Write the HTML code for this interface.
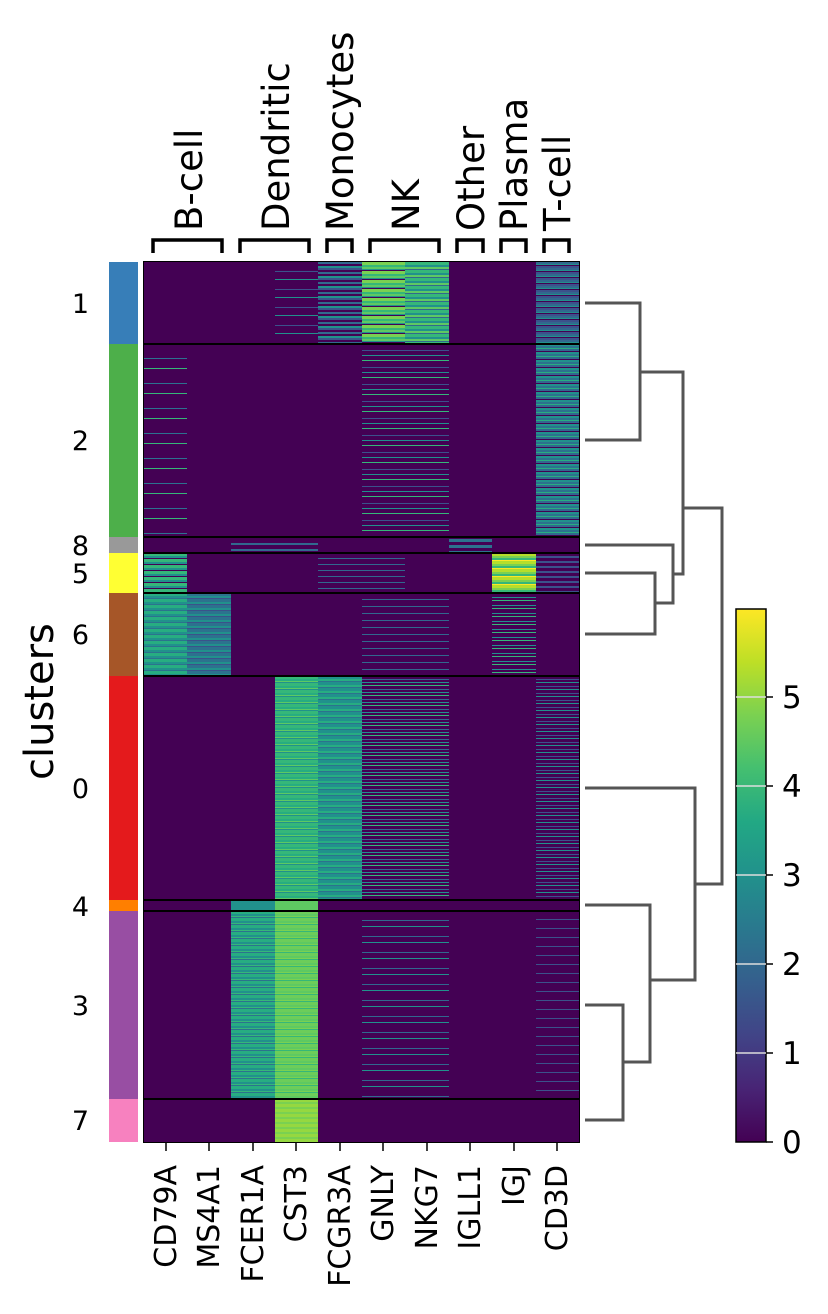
<!DOCTYPE html>
<html><head><meta charset="utf-8"><style>
body{margin:0;background:#fff;width:828px;height:1314px;position:relative;overflow:hidden;font-family:"DejaVu Sans",sans-serif;}
.a{position:absolute}
.c{position:absolute}
</style></head><body>
<div class="a" style="left:109px;top:262px;width:29px;height:82px;background:#377eb8"></div>
<div class="a" style="left:109px;top:344px;width:29px;height:193px;background:#4daf4a"></div>
<div class="a" style="left:109px;top:537px;width:29px;height:16px;background:#999999"></div>
<div class="a" style="left:109px;top:553px;width:29px;height:40px;background:#ffff33"></div>
<div class="a" style="left:109px;top:593px;width:29px;height:83px;background:#a65628"></div>
<div class="a" style="left:109px;top:676px;width:29px;height:224px;background:#e41a1c"></div>
<div class="a" style="left:109px;top:900px;width:29px;height:11px;background:#ff7f00"></div>
<div class="a" style="left:109px;top:911px;width:29px;height:188px;background:#984ea3"></div>
<div class="a" style="left:109px;top:1099px;width:29px;height:43px;background:#f781bf"></div>
<div class="a" style="left:144px;top:262px;width:435px;height:880px;background:#440154;overflow:hidden">
<div class="c" style="left:131px;top:0;width:43px;height:82px;background:repeating-linear-gradient(#440154 0 9px,#3b528b 9px 10px,#440154 10px 17px,#21918c 17px 18px)"></div>
<div class="c" style="left:174px;top:0;width:44px;height:82px;background:repeating-linear-gradient(#31688e 0 2px,#440154 2px 4px,#21918c 4px 6px,#3b528b 6px 8px,#440154 8px 10px)"></div>
<div class="c" style="left:218px;top:0;width:43px;height:82px;background:repeating-linear-gradient(#7ad151 0 3px,#35b779 3px 5px,#5ec962 5px 7px,#21918c 7px 8px,#440154 8px 9px)"></div>
<div class="c" style="left:261px;top:0;width:44px;height:82px;background:repeating-linear-gradient(#35b779 0 3px,#21918c 3px 5px,#5ec962 5px 7px,#31688e 7px 8px)"></div>
<div class="c" style="left:392px;top:0;width:43px;height:82px;background:repeating-linear-gradient(#31688e 0 2px,#21918c 2px 3px,#440154 3px 4px,#3b528b 4px 6px)"></div>
<div class="c" style="left:0;top:82px;width:43px;height:193px;background:repeating-linear-gradient(#440154 0 14px,#2c728e 14px 15px,#440154 15px 24px,#35b779 24px 25px)"></div>
<div class="c" style="left:218px;top:82px;width:87px;height:193px;background:repeating-linear-gradient(#440154 0 6px,#3b528b 6px 7px,#440154 7px 11px,#21918c 11px 12px,#440154 12px 16px,#35b779 16px 17px)"></div>
<div class="c" style="left:392px;top:82px;width:43px;height:193px;background:repeating-linear-gradient(#21918c 0 2px,#2c728e 2px 4px,#27ad81 4px 5px,#31688e 5px 7px,#440154 7px 8px)"></div>
<div class="c" style="left:305px;top:277px;width:43px;height:14px;background:repeating-linear-gradient(#2c728e 0 3px,#440154 3px 6px)"></div>
<div class="c" style="left:87px;top:277px;width:87px;height:14px;background:repeating-linear-gradient(#440154 0 4px,#31688e 4px 6px)"></div>
<div class="c" style="left:0;top:291px;width:43px;height:40px;background:repeating-linear-gradient(#35b779 0 3px,#21918c 3px 5px,#440154 5px 6px)"></div>
<div class="c" style="left:348px;top:291px;width:44px;height:40px;background:repeating-linear-gradient(#b5de2b 0 3px,#7ad151 3px 5px,#35b779 5px 7px,#fde725 7px 8px)"></div>
<div class="c" style="left:174px;top:291px;width:87px;height:40px;background:repeating-linear-gradient(#440154 0 5px,#31688e 5px 6px)"></div>
<div class="c" style="left:392px;top:291px;width:43px;height:40px;background:repeating-linear-gradient(#440154 0 3px,#3b528b 3px 5px)"></div>
<div class="c" style="left:0;top:331px;width:43px;height:83px;background:repeating-linear-gradient(#27ad81 0 3px,#21918c 3px 5px,#2c728e 5px 6px)"></div>
<div class="c" style="left:43px;top:331px;width:44px;height:83px;background:repeating-linear-gradient(#2c728e 0 3px,#21918c 3px 5px,#3b528b 5px 6px)"></div>
<div class="c" style="left:348px;top:331px;width:44px;height:83px;background:repeating-linear-gradient(#440154 0 4px,#21918c 4px 5px,#440154 5px 7px,#35b779 7px 8px)"></div>
<div class="c" style="left:218px;top:331px;width:87px;height:83px;background:repeating-linear-gradient(#440154 0 6px,#31688e 6px 7px)"></div>
<div class="c" style="left:131px;top:414px;width:43px;height:224px;background:repeating-linear-gradient(#35b779 0 3px,#27ad81 3px 5px,#5ec962 5px 6px,#21918c 6px 7px)"></div>
<div class="c" style="left:174px;top:414px;width:44px;height:224px;background:repeating-linear-gradient(#21918c 0 3px,#27ad81 3px 5px,#2c728e 5px 6px)"></div>
<div class="c" style="left:218px;top:414px;width:87px;height:224px;background:repeating-linear-gradient(#440154 0 3px,#31688e 3px 4px,#440154 4px 6px,#21918c 6px 7px,#440154 7px 9px,#35b779 9px 10px)"></div>
<div class="c" style="left:392px;top:414px;width:43px;height:224px;background:repeating-linear-gradient(#440154 0 3px,#3b528b 3px 4px,#440154 4px 6px,#21918c 6px 7px)"></div>
<div class="c" style="left:87px;top:638px;width:44px;height:11px;background:#21918c"></div>
<div class="c" style="left:131px;top:638px;width:43px;height:11px;background:#5ec962"></div>
<div class="c" style="left:87px;top:649px;width:44px;height:188px;background:repeating-linear-gradient(#27ad81 0 3px,#21918c 3px 5px,#35b779 5px 6px,#2c728e 6px 7px)"></div>
<div class="c" style="left:131px;top:649px;width:43px;height:188px;background:repeating-linear-gradient(#6ccd5a 0 3px,#5ec962 3px 5px,#7ad151 5px 6px,#35b779 6px 7px)"></div>
<div class="c" style="left:218px;top:649px;width:87px;height:188px;background:repeating-linear-gradient(#440154 0 9px,#31688e 9px 10px,#440154 10px 15px,#21918c 15px 16px)"></div>
<div class="c" style="left:392px;top:649px;width:43px;height:188px;background:repeating-linear-gradient(#440154 0 8px,#3b528b 8px 9px)"></div>
<div class="c" style="left:131px;top:837px;width:43px;height:43px;background:repeating-linear-gradient(#95d840 0 3px,#7ad151 3px 5px)"></div>
<div class="c" style="left:0;top:81px;width:435px;height:2px;background:#000"></div>
<div class="c" style="left:0;top:274px;width:435px;height:2px;background:#000"></div>
<div class="c" style="left:0;top:290px;width:435px;height:2px;background:#000"></div>
<div class="c" style="left:0;top:330px;width:435px;height:2px;background:#000"></div>
<div class="c" style="left:0;top:413px;width:435px;height:2px;background:#000"></div>
<div class="c" style="left:0;top:637px;width:435px;height:2px;background:#000"></div>
<div class="c" style="left:0;top:648px;width:435px;height:2px;background:#000"></div>
<div class="c" style="left:0;top:836px;width:435px;height:2px;background:#000"></div>
</div>
<div class="a" style="left:143px;top:261px;width:435px;height:880px;border:1.5px solid #000"></div>

<svg class="a" style="left:0;top:0" width="828" height="1314">
<g font-size="27" font-family="DejaVu Sans, sans-serif" text-anchor="end">
<text x="89" y="313">1</text><text x="89" y="450">2</text><text x="89" y="555">8</text>
<text x="89" y="583">5</text><text x="89" y="644">6</text><text x="89" y="798">0</text>
<text x="89" y="916">4</text><text x="89" y="1015">3</text><text x="89" y="1130">7</text>
</g>
<text transform="translate(53,780) rotate(-90)" font-size="40" font-family="DejaVu Sans, sans-serif">clusters</text>
<g stroke="#000" stroke-width="1.5">
<line x1="166" y1="1142" x2="166" y2="1151"/><line x1="209" y1="1142" x2="209" y2="1151"/>
<line x1="253" y1="1142" x2="253" y2="1151"/><line x1="296" y1="1142" x2="296" y2="1151"/>
<line x1="340" y1="1142" x2="340" y2="1151"/><line x1="383" y1="1142" x2="383" y2="1151"/>
<line x1="427" y1="1142" x2="427" y2="1151"/><line x1="470" y1="1142" x2="470" y2="1151"/>
<line x1="514" y1="1142" x2="514" y2="1151"/><line x1="557" y1="1142" x2="557" y2="1151"/>
</g>
<g font-size="30" font-family="DejaVu Sans, sans-serif" text-anchor="end">
<text transform="translate(176,1165) rotate(-90)">CD79A</text>
<text transform="translate(219,1165) rotate(-90)">MS4A1</text>
<text transform="translate(263,1165) rotate(-90)">FCER1A</text>
<text transform="translate(306,1165) rotate(-90)">CST3</text>
<text transform="translate(350,1165) rotate(-90)">FCGR3A</text>
<text transform="translate(393,1165) rotate(-90)">GNLY</text>
<text transform="translate(437,1165) rotate(-90)">NKG7</text>
<text transform="translate(480,1165) rotate(-90)">IGLL1</text>
<text transform="translate(524,1165) rotate(-90)">IGJ</text>
<text transform="translate(567,1165) rotate(-90)">CD3D</text>
</g>
<g stroke="#000" stroke-width="3.5" fill="none">
<path d="M153,253 V240 H222 V253"/>
<path d="M240,253 V240 H309 V253"/>
<path d="M327,253 V240 H352 V253"/>
<path d="M370,253 V240 H439 V253"/>
<path d="M457,253 V240 H483 V253"/>
<path d="M501,253 V240 H526 V253"/>
<path d="M544,253 V240 H569 V253"/>
</g>
<g font-size="37" font-family="DejaVu Sans, sans-serif">
<text transform="translate(202,231) rotate(-90)">B-cell</text>
<text transform="translate(289,231) rotate(-90)">Dendritic</text>
<text transform="translate(353,231) rotate(-90)">Monocytes</text>
<text transform="translate(419,231) rotate(-90)">NK</text>
<text transform="translate(484,231) rotate(-90)">Other</text>
<text transform="translate(527,231) rotate(-90)">Plasma</text>
<text transform="translate(570,231) rotate(-90)">T-cell</text>
</g>
<g stroke="#555" stroke-width="3" fill="none">
<path d="M585,303 H640 V440 H585"/>
<path d="M585,573 H655 V634 H585"/>
<path d="M585,545 H673 V603 H655"/>
<path d="M640,372 H683 V574 H673"/>
<path d="M683,508 H722 V884 H695"/>
<path d="M585,1005 H623 V1120 H585"/>
<path d="M585,905 H650 V1062 H623"/>
<path d="M585,788 H695 V980 H650"/>
</g>
<defs><linearGradient id="vir" x1="0" y1="1" x2="0" y2="0">
<stop offset="0" stop-color="#440154"/><stop offset="0.1" stop-color="#482475"/>
<stop offset="0.2" stop-color="#414487"/><stop offset="0.3" stop-color="#355f8d"/>
<stop offset="0.4" stop-color="#2a788e"/><stop offset="0.5" stop-color="#21918c"/>
<stop offset="0.6" stop-color="#22a884"/><stop offset="0.7" stop-color="#44bf70"/>
<stop offset="0.8" stop-color="#7ad151"/><stop offset="0.9" stop-color="#bddf26"/>
<stop offset="1" stop-color="#fde725"/></linearGradient></defs>
<rect x="736" y="609" width="30" height="533" fill="url(#vir)" stroke="#000" stroke-width="1.5"/>
<g stroke="#ddd" stroke-width="1.5">
<line x1="736" y1="1053" x2="766" y2="1053"/><line x1="736" y1="964" x2="766" y2="964"/>
<line x1="736" y1="875" x2="766" y2="875"/><line x1="736" y1="786" x2="766" y2="786"/>
<line x1="736" y1="697" x2="766" y2="697"/></g>
<g stroke="#000" stroke-width="1.5">
<line x1="766" y1="1142" x2="773" y2="1142"/><line x1="766" y1="1053" x2="773" y2="1053"/>
<line x1="766" y1="964" x2="773" y2="964"/><line x1="766" y1="875" x2="773" y2="875"/>
<line x1="766" y1="786" x2="773" y2="786"/><line x1="766" y1="697" x2="773" y2="697"/></g>
<g font-size="31" font-family="DejaVu Sans, sans-serif">
<text x="782" y="1153">0</text><text x="782" y="1064">1</text><text x="782" y="975">2</text>
<text x="782" y="886">3</text><text x="782" y="797">4</text><text x="782" y="708">5</text>
</g>
</svg>
</body></html>
